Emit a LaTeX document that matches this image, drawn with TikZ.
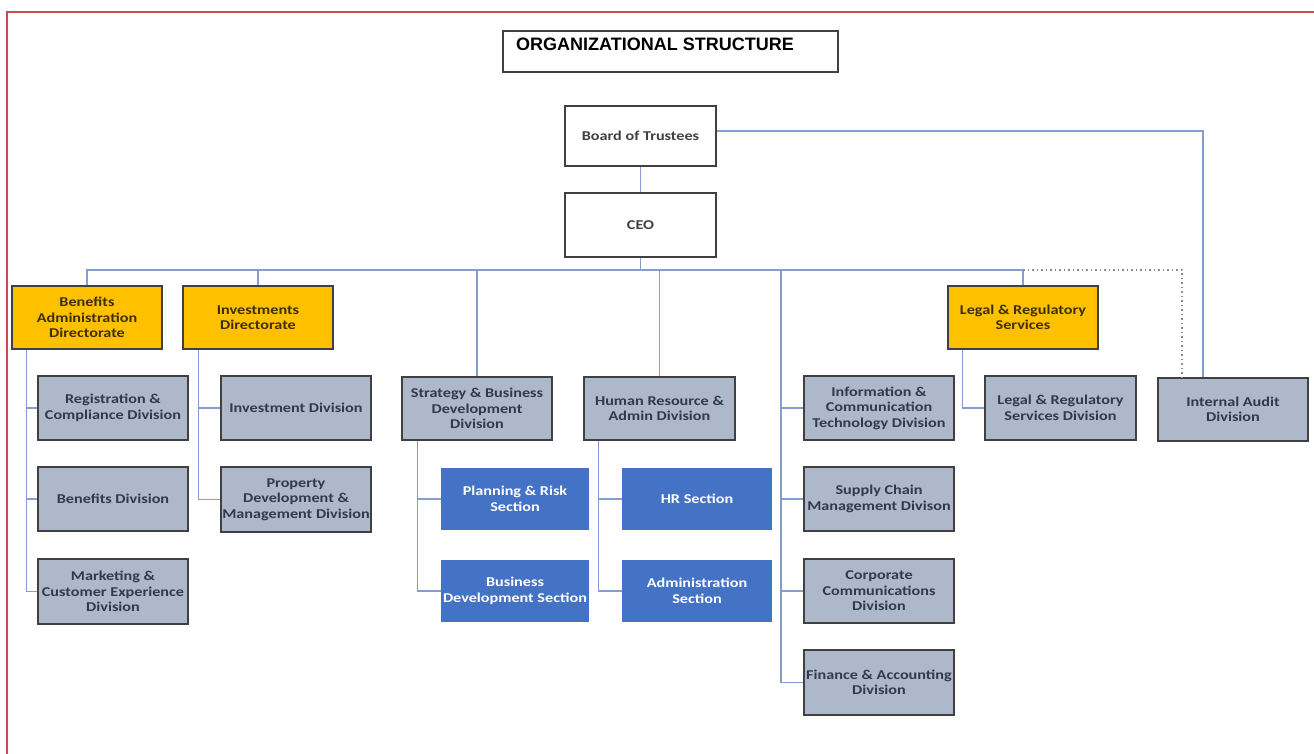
\documentclass[tikz,border=0pt]{standalone}
\usepackage{fontspec}
\newfontfamily\calfont{Carlito}[FakeStretch=1.2]
\newfontfamily\arialfont{Liberation Sans}
\definecolor{yel}{HTML}{FFC000}
\definecolor{grayfill}{HTML}{ADB9CA}
\definecolor{bluefill}{HTML}{4472C4}
\definecolor{bordercol}{HTML}{404040}
\definecolor{conncol}{HTML}{859ECF}
\definecolor{dotcol}{HTML}{8C8C8C}
\definecolor{framecol}{HTML}{CC4C4C}
\definecolor{graytext}{HTML}{303A4A}
\definecolor{yeltext}{HTML}{3D3000}
\tikzset{
  box/.style={rectangle, inner sep=0pt, align=center, minimum width=150pt, minimum height=64pt,
     font=\calfont\bfseries\fontsize{13.5}{15.5}\selectfont},
  whitebox/.style={box, draw=bordercol, line width=1.3pt, fill=white, text=bordercol, minimum width=151pt},
  yelbox/.style={box, draw=bordercol, line width=1.2pt, fill=yel, text=yeltext, minimum height=63pt},
  graybox/.style={box, draw=bordercol, line width=1.2pt, fill=grayfill, text=graytext},
  bluebox/.style={box, fill=bluefill, text=white, minimum height=62pt},
  conn/.style={draw=conncol, line width=1.5pt},
  dotconn/.style={draw=dotcol, line width=1.2pt, dash pattern=on 1.5pt off 3pt},
}
\begin{document}
\begin{tikzpicture}[x=1pt, y=-1pt]
\useasboundingbox (0,0) rectangle (1314,754);
\fill[white] (0,0) rectangle (1314,754);
% frame
\draw[framecol, line width=2pt] (7,755) -- (7,12) -- (1315,12);

% title
\node[draw=bordercol, line width=1.3pt, minimum width=335pt, minimum height=41pt, inner sep=0pt] (title) at (670.5,51.5) {};
\node[anchor=base west, inner sep=0pt, font=\arialfont\bfseries\fontsize{18}{20}\selectfont] (titletext) at (516,51) {ORGANIZATIONAL STRUCTURE};

% top
\node[whitebox, minimum height=60pt] (board) at (640.5,136) {Board of Trustees};
\node[whitebox] (ceo) at (640.5,225) {CEO};

% directorates
\node[yelbox] (bad) at (87,317.5) {Benefits\\Administration\\Directorate};
\node[yelbox] (invd) at (258,317.5) {Investments\\Directorate};
\node[yelbox] (lrs) at (1023,317.5) {Legal \& Regulatory\\Services};

% benefits children
\node[graybox] (reg) at (113,408) {Registration \&\\Compliance Division};
\node[graybox] (ben) at (113,499) {Benefits Division};
\node[graybox, minimum height=65pt] (mkt) at (113,591.5) {Marketing \&\\Customer Experience\\Division};

% investments children
\node[graybox] (inv) at (296,408) {Investment Division};
\node[graybox, minimum height=65pt] (prop) at (296,499.5) {Property\\Development \&\\Management Division};

% strategy and HR
\node[graybox, minimum height=63pt] (sbd) at (477,408.5) {Strategy \& Business\\Development\\Division};
\node[graybox, minimum width=151pt, minimum height=63pt] (hra) at (659.5,408.5) {Human Resource \&\\Admin Division};

\node[bluebox, minimum width=148pt] (plan) at (515,499) {Planning \& Risk\\Section};
\node[bluebox, minimum width=148pt] (bds) at (515,591) {Business\\Development Section};
\node[bluebox] (hrs) at (697,499) {HR Section};
\node[bluebox] (adm) at (697,591) {Administration\\Section};

% CEO direct divisions
\node[graybox] (ict) at (879,408) {Information \&\\Communication\\Technology Division};
\node[graybox] (scm) at (879,499) {Supply Chain\\Management Divison};
\node[graybox] (cc) at (879,591) {Corporate\\Communications\\Division};
\node[graybox, minimum height=65pt] (fin) at (879,682.5) {Finance \& Accounting\\Division};

% legal and audit
\node[graybox, minimum width=151pt] (lrsd) at (1060.5,408) {Legal \& Regulatory\\Services Division};
\node[graybox, minimum height=63pt] (ia) at (1233,409.5) {Internal Audit\\Division};

% connectors
\draw[conn] (board.south) -- (ceo.north);
\coordinate (busc) at (640.5,270);
\coordinate (spine) at (781,270);
\draw[conn] (ceo.south) -- (busc);
\draw[conn] (bad.north) |- (busc);
\draw[conn] (invd.north) |- (busc);
\draw[conn] (sbd.north) |- (busc);
\draw[conn] (hra.north) |- (busc);
\draw[conn] (lrs.north) |- (busc);
\draw[conn] (spine) |- (ict.west);
\draw[conn] (spine) |- (scm.west);
\draw[conn] (spine) |- (cc.west);
\draw[conn] (spine) |- (fin.west);

\draw[conn] ([xshift=15pt]bad.south west) |- (reg.west);
\draw[conn] ([xshift=15pt]bad.south west) |- (ben.west);
\draw[conn] ([xshift=15pt]bad.south west) |- (mkt.west);
\draw[conn] ([xshift=16pt]invd.south west) |- (inv.west);
\draw[conn] ([xshift=16pt]invd.south west) |- (prop.west);
\draw[conn] ([xshift=16pt]sbd.south west) |- (plan.west);
\draw[conn] ([xshift=16pt]sbd.south west) |- (bds.west);
\draw[conn] ([xshift=15pt]hra.south west) |- (hrs.west);
\draw[conn] ([xshift=15pt]hra.south west) |- (adm.west);
\draw[conn] ([xshift=15pt]lrs.south west) |- (lrsd.west);

\draw[conn] ([yshift=5pt]board.east) -| ([xshift=-30pt]ia.north);
\draw[dotconn] (lrs.north |- busc) -| ([xshift=-51pt]ia.north);
\end{tikzpicture}
\end{document}
